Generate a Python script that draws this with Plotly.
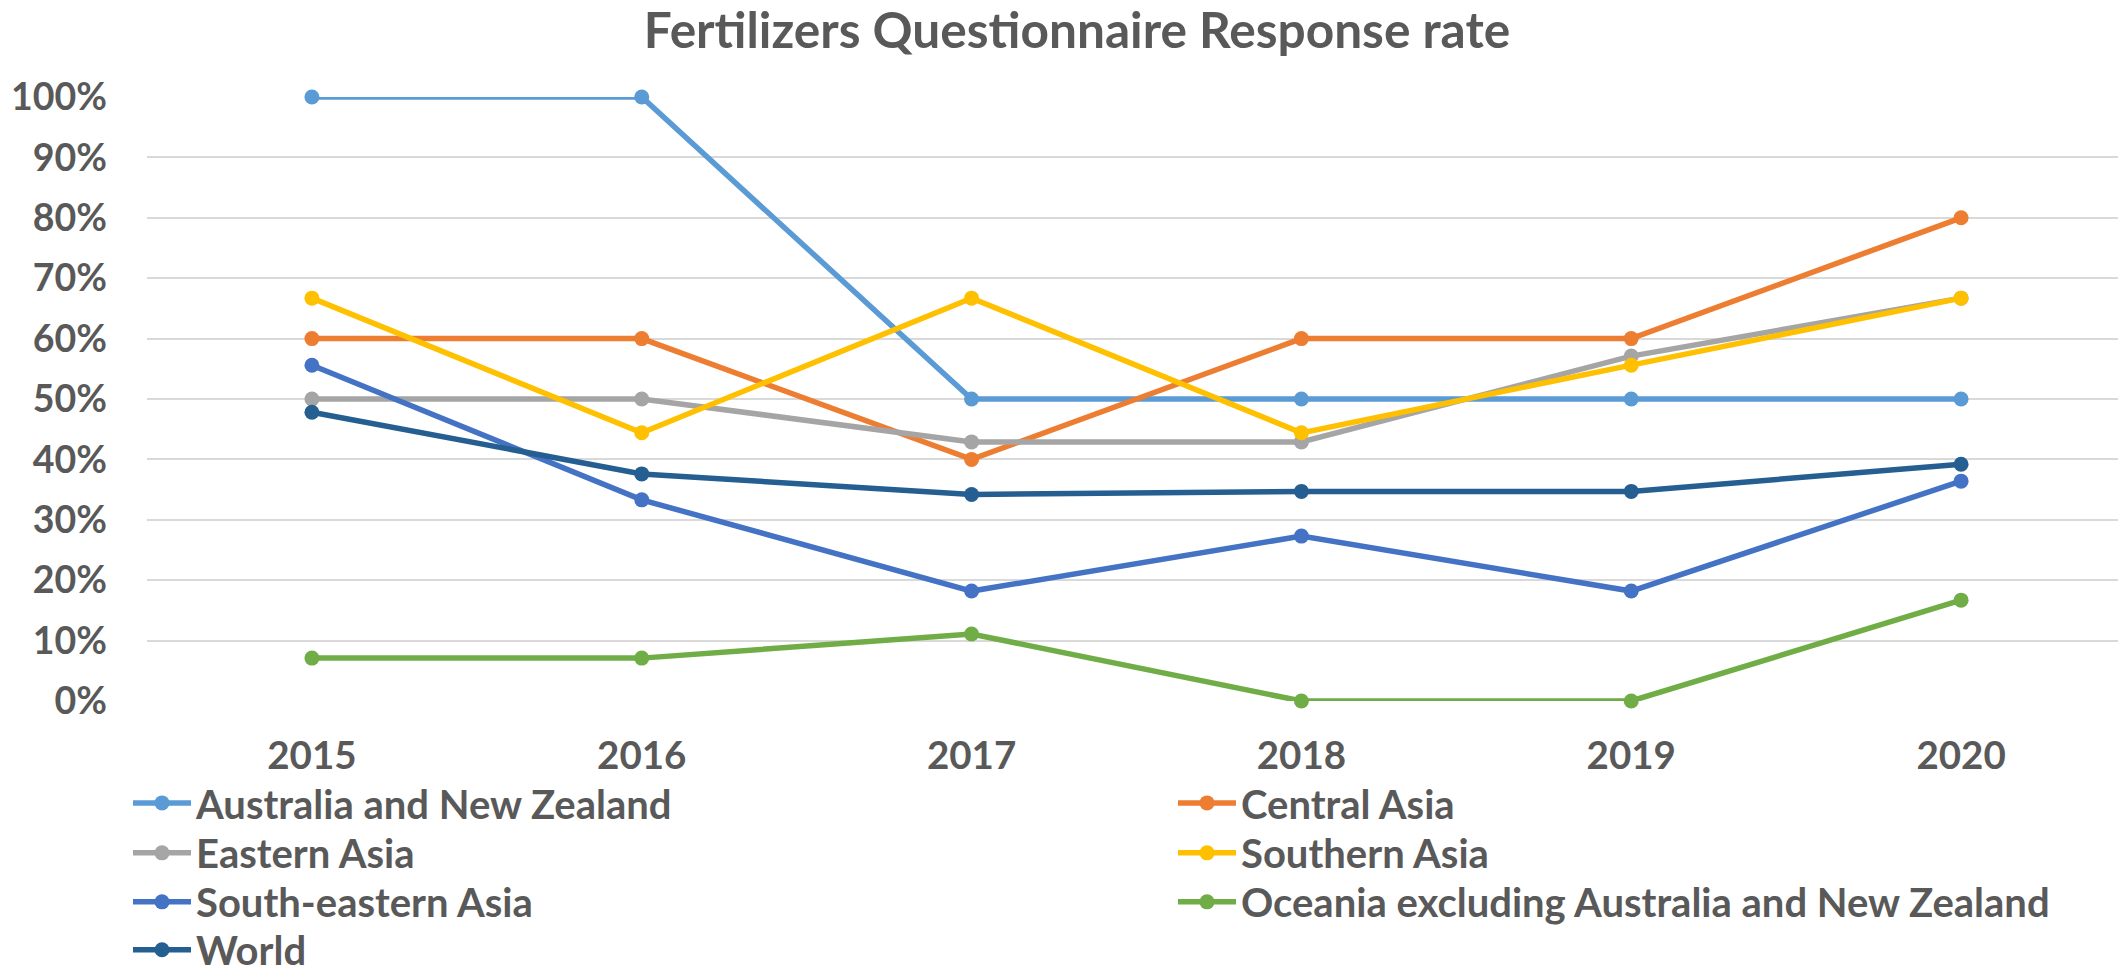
import plotly.graph_objects as go

years = ["2015", "2016", "2017", "2018", "2019", "2020"]
australia_nz = [1.0, 1.0, 0.5, 0.5, 0.5, 0.5]
central_asia = [0.6, 0.6, 0.4, 0.6, 0.6, 0.8]
eastern_asia = [0.5, 0.5, 0.429, 0.429, 0.571, 0.667]
southern_asia = [0.667, 0.444, 0.667, 0.444, 0.556, 0.667]
south_eastern_asia = [0.556, 0.333, 0.182, 0.273, 0.182, 0.364]
oceania_excl = [0.071, 0.071, 0.111, 0.0, 0.0, 0.167]
world = [0.478, 0.376, 0.342, 0.347, 0.347, 0.392]

# (name, values, colour, legend row, legend column)
series = [
    ("Australia and New Zealand", australia_nz, "#5B9BD5", 0, 0),
    ("Central Asia", central_asia, "#ED7D31", 0, 1),
    ("Eastern Asia", eastern_asia, "#A5A5A5", 1, 0),
    ("Southern Asia", southern_asia, "#FFC000", 1, 1),
    ("South-eastern Asia", south_eastern_asia, "#4472C4", 2, 0),
    ("Oceania excluding Australia and New Zealand", oceania_excl, "#70AD47", 2, 1),
    ("World", world, "#255E91", 3, 0),
]

FONT = "Lato"
TXT = "#595959"

# The page body has an 8px default margin, so the figure is drawn 8px smaller
OFF = 8
W, H = 2126 - OFF, 973 - OFF
L, R = 147 - OFF, 0
T = 96.5 - OFF
PLOT_BOTTOM = 701 - OFF
B = H - PLOT_BOTTOM
PW = W - L - R
PH = H - T - B
ITEMW = 58
COL_OFFSET = 1045
TEXTGAP = ITEMW + 10

legend_ids = ["legend", "legend2", "legend3", "legend4"]
row_centers = [803 - OFF, 853 - OFF, 902 - OFF, 950 - OFF]
legend_left = 197 - OFF - 69

fig = go.Figure()
for name, vals, color, row, col in series:
    kw = {}
    if col == 0:
        kw["legendwidth"] = COL_OFFSET - TEXTGAP - 5
    fig.add_trace(go.Scatter(
        x=years, y=vals, name=name, mode="lines+markers",
        line=dict(color=color, width=5.5),
        marker=dict(color=color, size=15),
        cliponaxis=False,
        legend=legend_ids[row],
        **kw,
    ))

layout_legends = {}
for lid, yc in zip(legend_ids, row_centers):
    layout_legends[lid] = dict(
        orientation="h", x=(legend_left - L) / PW, xanchor="left",
        y=-(yc - PLOT_BOTTOM) / PH, yanchor="middle",
        itemwidth=ITEMW, tracegroupgap=0,
        font=dict(family=FONT, size=40, color=TXT, weight="bold"),
        bgcolor="rgba(0,0,0,0)",
    )

fig.update_layout(
    width=W, height=H,
    margin=dict(l=L, r=R, t=T, b=B, autoexpand=False),
    paper_bgcolor="white", plot_bgcolor="white",
    font=dict(family=FONT, color=TXT, size=36, weight="bold"),
    title=dict(
        text="<b>Fertilizers Questionnaire Response rate</b>",
        xref="container", yref="container",
        x=(1077 - OFF) / W, y=1 - (31 - OFF) / H, xanchor="center", yanchor="middle",
        font=dict(family=FONT, size=49.6, color=TXT),
    ),
    xaxis=dict(
        type="category", range=[-0.5, 5.5],
        showgrid=False, zeroline=False, showline=False,
        ticks="", ticklabelstandoff=28,
        tickfont=dict(family=FONT, size=38.5, color=TXT, weight="bold"),
    ),
    yaxis=dict(
        range=[0, 1], dtick=0.1, tick0=0, tickformat=".0%",
        showgrid=True, gridcolor="#D9D9D9", gridwidth=2,
        zeroline=False, showline=False, ticks="",
        ticklabelstandoff=39,
        tickfont=dict(family=FONT, size=37.5, color=TXT, weight="bold"),
    ),
    showlegend=True,
    **layout_legends,
)

fig.write_html("out.html")
